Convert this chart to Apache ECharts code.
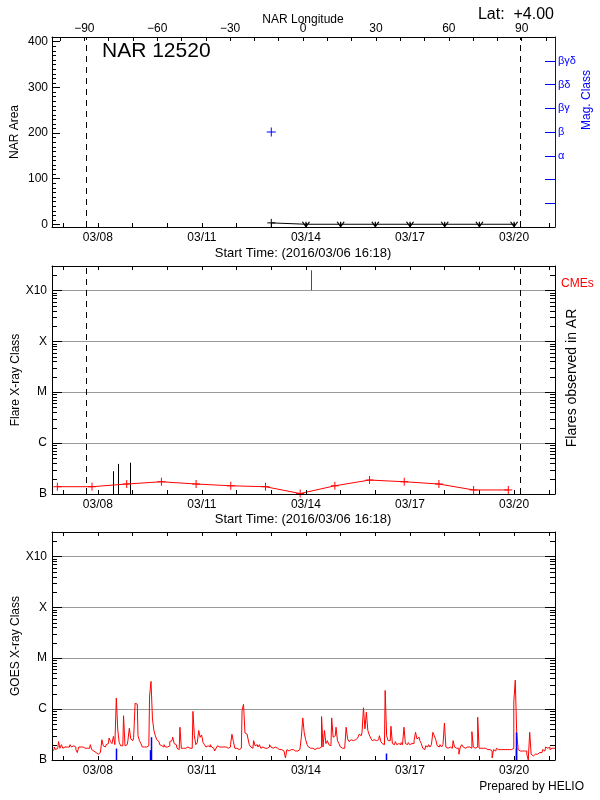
<!DOCTYPE html>
<html><head><meta charset="utf-8">
<script src="https://cdn.jsdelivr.net/npm/echarts@6/dist/echarts.min.js"></script>
<style>html,body{margin:0;padding:0;background:#fff}#c{width:600px;height:800px}</style>
</head><body><div id="c"></div>
<script>
// ---------------- data ----------------
const startTime = '2016-03-06 16:18';
const endTime = '2016-03-21 04:18';
const majorDates = ['2016-03-08','2016-03-11','2016-03-14','2016-03-17','2016-03-20'];
const dayDates = ['2016-03-07','2016-03-08','2016-03-09','2016-03-10','2016-03-11','2016-03-12','2016-03-13',
  '2016-03-14','2016-03-15','2016-03-16','2016-03-17','2016-03-18','2016-03-19','2016-03-20','2016-03-21'];
const lonMin = -103.3, lonMax = 103.7;
const lonLabelVals = [-90,-60,-30,0,30,60,90];
const lonTickVals = [-100,-90,-80,-70,-60,-50,-40,-30,-20,-10,0,10,20,30,40,50,60,70,80,90,100];
const areaMin = -6, areaMax = 410;
const areaLabelVals = [0,100,200,300,400];
const areaMinorStep = 10;
const magMax = 8;
const magTickVals = [1,2,3,4,5,6,7];
const magLevels = [3,4,5,6,7];
const magNames = ['α','β','βγ','βδ','βγδ'];
const classValues = [1,10,100,1000,10000];      // flux in units of 1e-7 W/m^2
const classNames = ['B','C','M','X','X10'];
const fluxMax = 30000;
const limbTimes = ['2016-03-07 15:48','2016-03-20 04:00'];

// top panel: NAR area & magnetic class
const narTimes = ['2016-03-13 00:00','2016-03-14 00:00','2016-03-15 00:00','2016-03-16 00:00',
  '2016-03-17 00:00','2016-03-18 00:00','2016-03-19 00:00','2016-03-20 00:00'];
const narArea = [3,0,0,0,0,0,0,0];
const narMeasured = [true,false,false,false,false,false,false,false];
const magTimes = ['2016-03-13 00:00'];
const magClass = [4];

// middle panel
const arTimes = ['2016-03-06 20:00','2016-03-07 20:00','2016-03-08 20:00','2016-03-09 20:00','2016-03-10 20:00',
  '2016-03-11 20:00','2016-03-12 20:00','2016-03-13 20:00','2016-03-14 20:00','2016-03-15 20:00',
  '2016-03-16 20:00','2016-03-17 20:00','2016-03-18 20:00','2016-03-19 20:00'];
const arLevel = [1.39,1.39,1.57,1.74,1.57,1.45,1.39,1.02,1.45,1.88,1.74,1.57,1.2,1.2];
const flareTimes = ['2016-03-08 10:36','2016-03-08 14:06','2016-03-08 22:12'];
const flarePeak = [2.8,3.9,4.1];
const cmeTimes = ['2016-03-14 03:36'];
const cmeBase = 10000, cmeTop = 24700;

// bottom panel: GOES flux, hourly from start time (units of 1e-7 W/m^2)
const goesStepMinutes = 60;
const goesFlux = [
 1.5,1.6,1.8,1.6,1.7,2.3,1.7,2.0,1.7,1.8, 1.8,1.9,1.8,2.0,1.8,1.9,1.8,1.6,1.4,1.8,
 1.8,1.8,1.8,1.7,1.7,1.6,1.7,2.0,1.6,1.5, 1.4,1.3,1.3,1.4,1.5,2.5,1.9,1.8,2.0,2.1,
 2.7,2.3,2.1,2.9,2.0,16.5,3.9,2.2,1.9,1.9, 7.4,1.9,2.0,2.4,4.2,2.6,2.4,2.8,13.0,12.5,
 3.0,2.4,2.1,1.8,1.8,1.8,1.7,1.9,18.0,35.0, 6.4,3.8,3.0,2.5,2.3,2.0,1.9,1.8,2.0,1.8,
 1.8,1.9,2.3,2.4,2.8,2.1,2.0,1.7,1.6,4.4, 1.7,1.7,1.7,1.7,1.8,1.7,1.7,1.7,9.0,3.0,
 2.0,2.2,3.8,2.8,3.1,2.2,2.0,1.8,1.9,1.8, 2.0,1.8,1.7,1.5,1.7,1.9,1.8,1.8,1.7,1.8,
 1.8,1.9,1.7,1.8,2.0,3.2,2.3,1.7,1.7,1.6, 1.7,1.7,9.4,12.4,3.4,3.2,2.7,2.0,1.8,1.7,
 2.4,1.9,2.0,1.8,2.0,1.7,1.8,1.7,1.8,1.7, 1.8,2.0,1.8,1.7,1.8,1.7,1.7,1.6,1.6,1.6,
 1.5,1.4,1.1,1.6,1.5,1.6,1.5,1.6,1.5,1.6, 1.5,1.6,1.5,2.8,6.7,3.4,2.5,2.0,1.8,1.7,
 1.7,1.6,1.6,1.7,1.6,1.7,1.8,7.1,1.8,3.8, 2.1,2.4,2.0,1.9,6.7,2.8,3.0,4.4,2.4,2.1,
 1.8,1.7,1.7,1.8,4.4,2.6,2.3,2.5,2.4,2.6, 2.5,2.7,2.8,3.2,3.0,3.5,10.6,4.1,8.7,3.8,
 3.1,2.7,2.4,2.5,2.4,2.3,2.5,3.0,2.3,2.1, 2.0,23.2,3.0,2.4,2.4,4.6,2.1,2.0,2.3,2.0,
 2.1,2.0,2.2,2.0,4.4,2.1,2.0,2.2,2.0,2.1, 2.1,2.4,3.5,2.6,2.8,2.4,2.1,1.7,1.6,1.9,
 1.8,2.0,1.8,2.0,3.5,3.0,2.5,1.9,1.8,2.0, 1.8,2.0,5.3,1.8,1.7,1.8,1.7,1.7,2.4,1.8,
 1.7,1.7,1.3,1.8,2.0,1.8,1.7,1.8,1.7,1.8, 1.7,3.6,1.8,1.7,1.8,6.9,1.7,1.7,1.7,1.6,
 1.7,1.6,1.6,1.6,1.5,1.1,1.6,1.5,1.7,1.6, 1.6,1.5,1.6,1.6,1.7,1.6,1.6,1.5,1.6,1.7,
 13.8,37.0,3.5,1.6,1.5,1.5,1.6,1.5,1.5,1.3, 1.0,3.5,1.3,1.2,1.3,1.2,1.3,1.4,1.5,1.4,
 1.6,1.5,1.8,1.7,1.8,1.6,1.7,1.7,1.7
];
const blueTimes = ['2016-03-08 12:42','2016-03-09 12:12','2016-03-09 12:54','2016-03-16 07:12','2016-03-20 01:06','2016-03-20 01:36'];
const blueLevel = [1.68,1.56,2.8,1.34,1.7,3.5];

// ---------------- helpers ----------------
const FONT = "'Liberation Sans', Arial, sans-serif";
function ts(s){ const p = s.split(' '); return Date.parse(p[0] + 'T' + (p[1] || '00:00') + ':00Z'); }
const T0 = ts(startTime), T1 = ts(endTime);
const majorTs = majorDates.map(ts), dayTs = dayDates.map(ts);
function pad(n){ return (n < 10 ? '0' : '') + n; }
function fmtDate(v){ const d = new Date(v); return pad(d.getUTCMonth()+1) + '/' + pad(d.getUTCDate()); }
function fmtLon(v){ return (v < 0 ? '−' : '') + Math.abs(v); }
function fmtClass(v){ const l = Math.log10(v), k = Math.round(l); return Math.abs(l-k) < 0.01 ? (classNames[k] || '') : ''; }
function fmtMag(v){ const i = magLevels.indexOf(Math.round(v)); return i >= 0 ? magNames[i] : ''; }
const minorFlux = [];
classValues.forEach(d => { for (let k = 2; k <= 9; k++) if (d*k <= fluxMax) minorFlux.push(d*k); });
const areaMinor = [];
for (let v = areaLabelVals[0]; v < areaLabelVals[areaLabelVals.length-1]; v += areaMinorStep)
  if (areaLabelVals.indexOf(v) < 0) areaMinor.push(v);

function merge(a, b){
  const out = Array.isArray(a) ? a.slice() : Object.assign({}, a);
  for (const k in b) {
    if (b[k] && typeof b[k] === 'object' && !Array.isArray(b[k]) && a[k] && typeof a[k] === 'object') out[k] = merge(a[k], b[k]);
    else out[k] = b[k];
  }
  return out;
}
const AX = {
  axisLine:{show:true, onZero:false, lineStyle:{color:'#000', width:1}},
  axisTick:{show:true, inside:true, length:4, lineStyle:{color:'#000', width:1}},
  axisLabel:{show:false, color:'#000', fontSize:12, fontFamily:FONT, hideOverlap:false},
  splitLine:{show:false}, minorTick:{show:false}, minorSplitLine:{show:false},
  axisPointer:{show:false}, silent:true, z:5
};
const xAxes = [], yAxes = [];
function addX(o){ xAxes.push(merge(AX, o)); return xAxes.length - 1; }
function addY(o){ yAxes.push(merge(AX, o)); return yAxes.length - 1; }
function timeAxes(g, withTop){
  const b = addX({type:'value', gridIndex:g, position:'bottom', min:T0, max:T1,
    axisTick:{customValues:dayTs, length:4},
    axisLabel:{show:true, customValues:majorTs, formatter:fmtDate, margin:5}});
  if (withTop) addX({type:'value', gridIndex:g, position:'top', min:T0, max:T1,
    axisTick:{customValues:dayTs, length:4}});
  return b;
}
function logAxes(g){
  const l = addY({type:'log', logBase:10, gridIndex:g, position:'left', min:classValues[0], max:fluxMax,
    axisTick:{customValues:classValues, length:10},
    axisLabel:{show:true, customValues:classValues, formatter:fmtClass, margin:5}});
  addY({type:'log', logBase:10, gridIndex:g, position:'right', min:classValues[0], max:fluxMax,
    axisTick:{customValues:classValues, length:10}});
  return l;
}
const xb0 = timeAxes(0, false);
addX({type:'value', gridIndex:0, position:'top', min:lonMin, max:lonMax,
  axisTick:{customValues:lonTickVals, length:4},
  axisLabel:{show:true, customValues:lonLabelVals, formatter:fmtLon, margin:2}});
const yl0 = addY({type:'value', gridIndex:0, position:'left', min:areaMin, max:areaMax,
  axisTick:{customValues:areaLabelVals, length:8},
  axisLabel:{show:true, customValues:areaLabelVals, margin:4}});
const yr0 = addY({type:'value', gridIndex:0, position:'right', min:0, max:magMax,
  axisLine:{lineStyle:{color:'#0000ff'}},
  axisTick:{customValues:magTickVals, length:10, lineStyle:{color:'#0000ff'}},
  axisLabel:{show:true, customValues:magLevels, formatter:fmtMag, color:'#0000ff', fontSize:11, margin:3}});
const xb1 = timeAxes(1, true);
const yl1 = logAxes(1);
const xb2 = timeAxes(2, true);
const yl2 = logAxes(2);

function vline(color, width, dash, full){
  return function(params, api){
    const cs = params.coordSys;
    const p0 = api.coord([api.value(0), api.value(1)]);
    const p1 = api.coord([api.value(0), api.value(2)]);
    const x = Math.round(p0[0]) + 0.5;
    const y1 = full ? cs.y + cs.height : p0[1], y2 = full ? cs.y : p1[1];
    return {type:'line', shape:{x1:x, y1:y1, x2:x, y2:y2},
      style:{stroke:color, lineWidth:width, lineDash:dash || null}};
  };
}
function hline(color){
  return function(params, api){
    const cs = params.coordSys;
    const y = Math.round(api.coord([api.value(0), api.value(1)])[1]) + 0.5;
    return {type:'line', shape:{x1:cs.x, y1:y, x2:cs.x + cs.width, y2:y}, style:{stroke:color, lineWidth:1}};
  };
}
// minor tick segments along the frame edges (side 0 = left, 1 = right), placed via the y scale
function edgeTick(len){
  return function(params, api){
    const cs = params.coordSys;
    const y = Math.round(api.coord([api.value(0), api.value(1)])[1]) + 0.5;
    const right = api.value(2) === 1;
    return {type:'line', shape:{x1: right ? cs.x + cs.width : cs.x, y1:y,
      x2: right ? cs.x + cs.width - len : cs.x + len, y2:y}, style:{stroke:'#000', lineWidth:1}};
  };
}
function sideItems(vals, sides){
  const out = [];
  sides.forEach(s => vals.forEach(v => out.push([T0, v, s])));
  return out;
}
const PLUS = 'path://M5,0L5,10M0,5L10,5';
const ARROW = 'path://M0,0L4,6L8,0M4,0L4,6';

const series = [
  // top panel
  {type:'custom', xAxisIndex:xb0, yAxisIndex:yl0, renderItem:edgeTick(4), silent:true, z:6,
   data: sideItems(areaMinor, [0])},
  {type:'custom', xAxisIndex:xb0, yAxisIndex:yl0, renderItem:vline('#000',1,[6,5],true), silent:true, z:1,
   data: limbTimes.map(t => [ts(t), areaMin, areaMax])},
  {type:'line', xAxisIndex:xb0, yAxisIndex:yl0, silent:true, z:3, showSymbol:true,
   lineStyle:{color:'#000', width:1},
   itemStyle:{color:'rgba(0,0,0,0)', borderColor:'#000', borderWidth:1},
   data: narTimes.map((t,i) => ({value:[ts(t), narArea[i]],
     symbol: narMeasured[i] ? PLUS : ARROW,
     symbolSize: narMeasured[i] ? 8 : [7,5]}))},
  {type:'line', xAxisIndex:xb0, yAxisIndex:yr0, silent:true, z:3, symbol:PLUS, symbolSize:9,
   lineStyle:{width:0}, itemStyle:{color:'rgba(0,0,0,0)', borderColor:'#0000ff', borderWidth:1},
   data: magTimes.map((t,i) => [ts(t), magClass[i]])},
  // middle panel
  {type:'custom', xAxisIndex:xb1, yAxisIndex:yl1, renderItem:edgeTick(5), silent:true, z:6,
   data: sideItems(minorFlux, [0,1])},
  {type:'custom', xAxisIndex:xb1, yAxisIndex:yl1, renderItem:hline('#999'), silent:true, z:1,
   data: classValues.slice(1).map(v => [T0, v])},
  {type:'custom', xAxisIndex:xb1, yAxisIndex:yl1, renderItem:vline('#000',1,[6,5],true), silent:true, z:2,
   data: limbTimes.map(t => [ts(t), classValues[0], fluxMax])},
  {type:'custom', xAxisIndex:xb1, yAxisIndex:yl1, renderItem:vline('#000',1), silent:true, z:3,
   data: flareTimes.map((t,i) => [ts(t), classValues[0], flarePeak[i]])},
  {type:'custom', xAxisIndex:xb1, yAxisIndex:yl1, renderItem:vline('#ff0000',1), silent:true, z:3,
   data: cmeTimes.map(t => [ts(t), cmeBase, cmeTop])},
  {type:'line', xAxisIndex:xb1, yAxisIndex:yl1, silent:true, z:4, symbol:PLUS, symbolSize:8, showSymbol:true,
   lineStyle:{color:'#ff0000', width:1},
   itemStyle:{color:'rgba(0,0,0,0)', borderColor:'#ff0000', borderWidth:1},
   data: arTimes.map((t,i) => [ts(t), arLevel[i]])},
  // bottom panel
  {type:'custom', xAxisIndex:xb2, yAxisIndex:yl2, renderItem:edgeTick(5), silent:true, z:6,
   data: sideItems(minorFlux, [0,1])},
  {type:'custom', xAxisIndex:xb2, yAxisIndex:yl2, renderItem:hline('#999'), silent:true, z:1,
   data: classValues.slice(1).map(v => [T0, v])},
  {type:'line', xAxisIndex:xb2, yAxisIndex:yl2, silent:true, z:3, step:'middle', symbol:'none', showSymbol:false,
   lineStyle:{color:'#ff0000', width:1},
   data: goesFlux.map((v,i) => [T0 + i*goesStepMinutes*60000, v])},
  {type:'custom', xAxisIndex:xb2, yAxisIndex:yl2, renderItem:vline('#0000ff',1.5), silent:true, z:4,
   data: blueTimes.map((t,i) => [ts(t), classValues[0], blueLevel[i]])}
];

function txt(text, x, y, size, color, align, rot){
  return {type:'text', x:x, y:y, rotation: rot ? Math.PI/2 : 0, silent:true, z:10,
    style:{text:text, fill:color, font: size + "px 'Liberation Sans', Arial, sans-serif",
      textAlign:align, textVerticalAlign:'middle', align:align, verticalAlign:'middle'}};
}
const graphic = [
  txt('NAR 12520', 102, 51, 21, '#000', 'left'),
  txt('Lat:  +4.00', 554, 15, 16, '#000', 'right'),
  txt('NAR Longitude', 303, 20, 12, '#000', 'center'),
  txt('NAR Area', 15, 132, 12, '#000', 'center', true),
  txt('Mag. Class', 587, 100, 12, '#0000ff', 'center', true),
  txt('Start Time: (2016/03/06 16:18)', 303, 253, 13, '#000', 'center'),
  txt('Flare X-ray Class', 16, 380, 12, '#000', 'center', true),
  txt('Flares observed in AR', 572, 378, 14, '#000', 'center', true),
  txt('CMEs', 561, 284, 12, '#ff0000', 'left'),
  txt('Start Time: (2016/03/06 16:18)', 303, 519, 13, '#000', 'center'),
  txt('GOES X-ray Class', 16, 646, 12, '#000', 'center', true),
  txt('Prepared by HELIO', 584, 787, 12, '#000', 'right')
];

const chart = echarts.init(document.getElementById('c'), null, {renderer:'canvas'});
chart.setOption({
  animation:false,
  backgroundColor:'#fff',
  textStyle:{fontFamily:FONT},
  grid:[
    {left:52, top:37, width:503, height:190, containLabel:false, outerBoundsMode:'none'},
    {left:52, top:266, width:503, height:228, containLabel:false, outerBoundsMode:'none'},
    {left:52, top:532, width:503, height:228, containLabel:false, outerBoundsMode:'none'}
  ],
  xAxis: xAxes,
  yAxis: yAxes,
  series: series,
  graphic: graphic
});
</script>
</body></html>
